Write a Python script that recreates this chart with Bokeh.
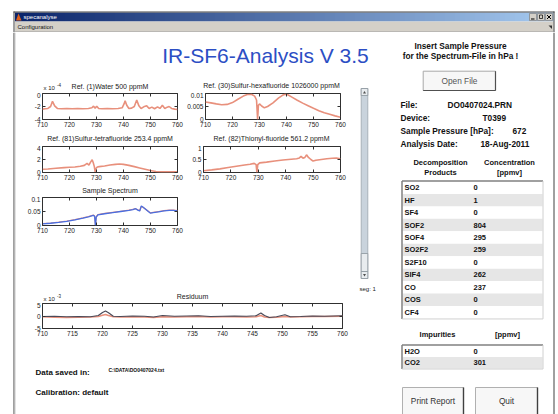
from bokeh.plotting import figure
from bokeh.layouts import column, row
from bokeh.models import Range1d, FixedTicker, PrintfTickFormatter, LinearAxis, CustomJSTickFormatter
from bokeh.core.properties import value
from bokeh.embed import file_html
from bokeh.resources import INLINE

# ---------------- data ----------------
water_x = [710, 711, 712, 713, 713.7, 714.5, 715.5, 717, 719, 721, 723, 725, 727, 728.3, 728.9, 729.5, 730.1,
           730.8, 732, 734, 736, 738, 739.5, 740.2, 740.6, 741.2, 742, 743, 744, 744.9, 745.7, 746.5, 747.5,
           748.6, 749.5, 750.5, 751.5, 752.6, 753.5, 754.4, 755.3, 756.2, 756.9, 757.8, 759, 760]
water_e4 = [-2.4, -2.35, -2.3, -2.0, -1.2, -1.9, -2.3, -2.35, -2.3, -2.35, -2.3, -2.35, -2.3, -2.2, -1.95, -2.25,
            -1.95, -2.3, -2.35, -2.3, -2.35, -2.3, -2.2, -1.6, -1.1, -1.8, -2.3, -2.25, -2.0, -1.0, -1.9, -2.3,
            -2.05, -1.9, -2.3, -2.1, -2.35, -2.05, -2.3, -1.8, -2.3, -2.1, -2.0, -2.3, -2.4, -2.45]

sf6_x = [710, 712, 714, 716, 718, 720, 722, 724, 725.5, 727, 728.2, 728.9, 729.3, 729.6, 730, 730.8, 731.8, 733,
         735, 737, 738.5, 739.5, 740.5, 742, 744, 746, 748, 750, 752, 754, 756, 758, 760]
sf6_y = [0.0067, 0.0064, 0.006, 0.0057, 0.0058, 0.0065, 0.0078, 0.009, 0.0096, 0.0097, 0.009, 0.0075, 0.0,
         0.0055, 0.006, 0.0052, 0.0045, 0.005, 0.0064, 0.0082, 0.0093, 0.0097, 0.0095, 0.0086, 0.0074, 0.0063,
         0.0053, 0.0043, 0.0034, 0.0026, 0.002, 0.0014, 0.0009]

sf4_x = [710, 712, 715, 718, 720, 722, 724, 725.5, 726.5, 727.2, 727.8, 728.4, 728.8, 729.2, 729.5, 729.8, 730.3,
         731, 733, 735, 737, 738.5, 740, 742, 744, 746, 748, 750, 752, 754, 756, 758, 760]
sf4_y = [0.5, 0.55, 0.65, 0.75, 0.8, 0.85, 0.95, 1.1, 1.4, 1.15, 1.6, 1.95, 1.5, 0.9, 0.1, 0.6, 0.85, 0.9, 1.0,
         1.15, 1.25, 1.3, 1.25, 1.1, 0.9, 0.7, 0.5, 0.3, 0.15, 0.1, 0.1, 0.1, 0.1]

sof2_x = [710, 713, 716, 719, 722, 725, 727, 728.5, 729.2, 729.5, 729.8, 730.5, 733, 736, 739, 742, 744, 745,
          745.6, 746.3, 747, 747.6, 748.3, 749.2, 750, 751, 753, 755, 757, 758.5, 760]
sof2_y = [0.07, 0.1, 0.14, 0.19, 0.24, 0.29, 0.32, 0.35, 0.3, 0.0, 0.3, 0.37, 0.4, 0.44, 0.48, 0.51, 0.53, 0.56,
          0.62, 0.55, 0.58, 0.68, 0.58, 0.5, 0.44, 0.47, 0.5, 0.53, 0.55, 0.56, 0.53]

sample_x = [710, 713, 716, 719, 722, 725, 727, 728.8, 729.3, 729.6, 729.9, 730.5, 733, 736, 739, 742, 743.5, 744.5,
            745.3, 746, 746.6, 747.3, 748.2, 749.2, 750, 751, 753, 755, 757, 758.5, 760]
sample_y = [0.006, 0.008, 0.011, 0.015, 0.02, 0.026, 0.031, 0.036, 0.033, 0.0, 0.03, 0.038, 0.042, 0.046, 0.05,
            0.054, 0.057, 0.06, 0.055, 0.052, 0.07, 0.065, 0.058, 0.05, 0.044, 0.046, 0.049, 0.052, 0.054, 0.054,
            0.052]
sample_fit = [0.007, 0.009, 0.012, 0.016, 0.021, 0.027, 0.032, 0.037, 0.035, 0.002, 0.031, 0.039, 0.043, 0.047,
              0.051, 0.055, 0.058, 0.06, 0.056, 0.053, 0.068, 0.064, 0.058, 0.051, 0.045, 0.047, 0.05, 0.053,
              0.055, 0.055, 0.053]

resid_x = [710, 712, 714, 716, 718, 719.3, 720, 720.5, 721, 721.8, 723, 725, 727, 728.5, 730, 732, 734, 736, 738,
           740, 742, 744, 745.6, 746.4, 747.0, 747.8, 749, 750.4, 751.3, 753, 755, 757, 760]
resid_e3 = [-0.2, -0.1, -0.3, -0.2, -0.3, 0.2, 1.4, 2.0, 1.3, -0.1, -0.2, 0.0, -0.1, -0.4, 0.2, -0.1, 0.0, 0.1,
            -0.2, -0.1, 0.0, -0.1, 0.1, 1.2, 0.2, -0.6, -0.3, 0.5, -0.3, -0.2, 0.0, -0.1, 0.1]
resid_ref_e3 = [-0.3, -0.5, -0.6, -0.5, -0.4, -0.2, 0.3, 0.6, 0.2, -0.3, -0.4, -0.3, -0.4, -0.6, -0.3, -0.4, -0.3,
                -0.2, -0.4, -0.3, -0.3, -0.4, -0.3, 0.2, -0.4, -0.6, -0.5, -0.2, -0.4, -0.3, -0.2, -0.2, -0.1]

x_ticks_small = [710, 720, 730, 740, 750, 760]
x_ticks_resid = [710, 715, 720, 725, 730, 735, 740, 745, 750, 755, 760]

plot_titles = ["Ref. (1)Water 500 ppmM", "Ref. (30)Sulfur-hexafluoride 1026000 ppmM",
               "Ref. (81)Sulfur-tetrafluoride 253.4 ppmM", "Ref. (82)Thionyl-fluoride 561.2 ppmM",
               "Sample Spectrum", "Residuum"]

info_labels = ["File:", "Device:", "Sample Pressure [hPa]:", "Analysis Date:"]
info_values = ["DO0407024.PRN", "T0399", "672", "18-Aug-2011"]

products = ["SO2", "HF", "SF4", "SOF2", "SOF4", "SO2F2", "S2F10", "SIF4", "CO", "COS", "CF4"]
concentrations = ["0", "1", "0", "804", "295", "259", "0", "262", "237", "0", "0"]
impurities = ["H2O", "CO2"]
impurity_values = ["0", "301"]

# ---------------- styles ----------------
FONT = value("Liberation Sans")
FONTNAME = "Liberation Sans"
BG = "#ffffff"
RED = "#e8907c"
BLUE = "#4a6ee0"
AX = "#303030"


def canvas(x0, x1, y0, y1):
    p = figure(width=x1 - x0, height=y1 - y0, x_range=Range1d(x0, x1), y_range=Range1d(y1, y0),
               x_axis_type=None, y_axis_type=None, toolbar_location=None, output_backend="svg",
               min_border=0, background_fill_color=BG, border_fill_color=BG, outline_line_color=None,
               frame_align=False)
    return p


def txt(p, xs, ys, texts, size, bold=False, align="left", color="#111111"):
    p.text(x=xs, y=ys, text=texts, text_font=FONT, text_font_size=size,
           text_font_style="bold" if bold else "normal", text_align=align,
           text_baseline="middle", text_color=color)


def spec(width, height, left, right, bottom, xr, yr, xt, yt):
    p = figure(width=width, height=height, x_range=Range1d(*xr), y_range=Range1d(*yr),
               toolbar_location=None, output_backend="svg", frame_align=False,
               min_border_left=left, min_border_right=right, min_border_top=1, min_border_bottom=bottom,
               background_fill_color="white", border_fill_color=BG, outline_line_color=AX)
    p.grid.visible = False
    p.xaxis.ticker = FixedTicker(ticks=xt)
    p.yaxis.ticker = FixedTicker(ticks=yt)
    p.xaxis.formatter = PrintfTickFormatter(format="%g")
    p.yaxis.formatter = PrintfTickFormatter(format="%g")
    for ax in (p.xaxis[0], p.yaxis[0]):
        ax.axis_line_color = None
        ax.major_tick_in = 3
        ax.major_tick_out = 0
        ax.minor_tick_line_color = None
        ax.major_tick_line_color = AX
        ax.major_label_text_font = FONTNAME
        ax.major_label_text_font_size = "6.5px"
        ax.major_label_text_color = "#222222"
        ax.major_label_standoff = 2
    for loc, t in (("above", xt), ("right", yt)):
        ax = LinearAxis(ticker=FixedTicker(ticks=t), formatter=CustomJSTickFormatter(code="return ''"),
                        major_label_text_font_size="0px", major_label_standoff=0,
                        major_tick_in=3, major_tick_out=0, minor_tick_line_color=None,
                        axis_line_color=None, major_tick_line_color=AX)
        p.add_layout(ax, loc)
    return p


def multiplier(p, x, y, exp):
    txt(p, [x], [y], ["x 10"], "6px", color="#222222")
    txt(p, [x + 13.5], [y - 2.5], [exp], "4.5px", color="#222222")


# ---------------- window chrome ----------------
chrome = canvas(0, 558, 0, 32)
n = 108
lefts = [14.5 + i * 5 for i in range(n)]
rights = [min(l + 5, 553) for l in lefts]
c0, c1 = (10, 36, 106), (166, 202, 240)
cols = ["#%02x%02x%02x" % tuple(int(a + (b - a) * i / (n - 1)) for a, b in zip(c0, c1)) for i in range(n)]
chrome.quad(left=lefts, right=rights, top=12, bottom=21, fill_color=cols, line_color=None)
chrome.quad(left=[14.5], right=[553], top=[21], bottom=[31.5], fill_color="#d4d0c8", line_color=None)
chrome.segment(x0=[13, 13.5, 553.5, 14], y0=[11.5, 11, 11, 31.5], x1=[554, 13.5, 553.5, 553],
               y1=[11.5, 32, 32, 31.5], line_color=["#404040", "#404040", "#404040", "#a0a0a0"], line_width=1)
chrome.patch(x=[15.5, 18, 21], y=[20, 13, 20], fill_color="#e0601a", line_color=None)
txt(chrome, [23], [16.3], ["specanalyse"], "6px", color="#ffffff")
chrome.quad(left=[529, 537, 545], right=[536, 544, 552], top=13, bottom=20, fill_color="#d4d0c8",
            line_color="#808080", line_width=0.7)
chrome.segment(x0=[530.5, 546.5, 546.5], y0=[18.5, 14.5, 18.5], x1=[534, 550.5, 550.5],
               y1=[18.5, 18.5, 14.5], line_color="#000000", line_width=1)
chrome.quad(left=[539], right=[542], top=[14.5], bottom=[18], fill_color=None, line_color="#000000",
            line_width=0.7)
txt(chrome, [17], [26.5], ["Configuration"], "6px", color="#111111")
chrome.patch(x=[548, 551.5, 551.5], y=[25, 25, 28.5], fill_color="#333333", line_color=None)

# left border strip
lstrip = canvas(0, 16, 32, 414)
lstrip.segment(x0=[13.5, 14.5], y0=[32, 32], x1=[13.5, 14.5], y1=[414, 414],
               line_color=["#404040", "#c8c8c8"], line_width=1)

# title
tfig = canvas(16, 385, 32, 80)
txt(tfig, [265], [55], ["IR-SF6-Analysis V 3.5"], "21px", color="#2c4ec4", align="center")

# ---------------- plots ----------------
TS = "7px"
TC = "#222222"

h1 = canvas(16, 355, 80, 92)
txt(h1, [109.5, 271], [85.5, 85], plot_titles[0:2], TS, align="center", color=TC)
multiplier(h1, 43, 87, "-4")

p1 = spec(168, 40, 26, 7, 13, (710, 760), (-4, 0), x_ticks_small, [-4, -2, 0])
p1.line(water_x, water_e4, line_color=RED, line_width=1.6)

p3 = spec(171, 40, 19, 15, 13, (710, 760), (0, 0.01), x_ticks_small, [0, 0.005, 0.01])
p3.line(sf6_x, sf6_y, line_color=RED, line_width=1.6)

h2 = canvas(16, 355, 132, 145)
txt(h2, [109.5, 271], [138, 138], plot_titles[2:4], TS, align="center", color=TC)

p2 = spec(168, 37, 26, 7, 10, (710, 760), (0, 4), x_ticks_small, [0, 2, 4])
p2.line(sf4_x, sf4_y, line_color=RED, line_width=1.6)

p4 = spec(171, 37, 19, 15, 10, (710, 760), (0, 1), x_ticks_small, [0, 0.5, 1])
p4.line(sof2_x, sof2_y, line_color=RED, line_width=1.6)

h3 = canvas(16, 355, 182, 196)
txt(h3, [109.5], [190], plot_titles[4:5], TS, align="center", color=TC)

ps = spec(168, 41, 26, 7, 12, (710, 760), (0, 0.1), x_ticks_small, [0, 0.05, 0.1])
ps.line(sample_x, sample_fit, line_color=RED, line_width=1.2)
ps.line(sample_x, sample_y, line_color=BLUE, line_width=1.3)

blank1 = canvas(184, 355, 196, 237)

h4 = canvas(16, 355, 237, 302)
txt(h4, [192], [296], plot_titles[5:6], TS, align="center", color=TC)
multiplier(h4, 43, 298, "-3")

pr = spec(339, 38, 26, 13, 12, (710, 760), (-5, 5), x_ticks_resid, [-5, 0, 5])
pr.line(resid_x, resid_ref_e3, line_color=RED, line_width=1.6)
pr.line(resid_x, resid_e3, line_color="#4a4a58", line_width=1.2)

# bottom texts
bfig = canvas(16, 355, 340, 414)
txt(bfig, [35, 35], [372, 392], ["Data saved in:", "Calibration: default"], "8px", bold=True)
txt(bfig, [108], [369.5], ["C:\\DATA\\DO0407024.txt"], "5px", bold=True)

# scrollbar column
sfig = canvas(355, 385, 80, 414)
sfig.quad(left=[360.7], right=[367.3], top=[88], bottom=[278], fill_color="#c9d3dc", line_color="#9aa4ac",
          line_width=0.8)
sfig.quad(left=[360.7, 360.7, 360.7], right=[367.3, 367.3, 367.3], top=[88, 253, 271], bottom=[95, 271, 278],
          fill_color="#e8ecef", line_color="#8a949c", line_width=0.8)
sfig.patch(x=[362.5, 364, 365.5], y=[93, 90.5, 93], fill_color="#505050", line_color=None)
sfig.patch(x=[362.5, 364, 365.5], y=[273.5, 276, 273.5], fill_color="#505050", line_color=None)
txt(sfig, [359], [288], ["seg: 1"], "6px", color="#222222")

# ---------------- right panel ----------------
RS = "8.3px"
rp = canvas(385, 558, 32, 414)
rp.segment(x0=[553.5], y0=[32], x1=[553.5], y1=[414], line_color="#404040", line_width=1)
txt(rp, [460, 460], [45, 55], ["Insert Sample Pressure", "for the Spectrum-File in hPa !"], RS, bold=True,
    align="center")
rp.quad(left=[422.7], right=[495], top=[70.7], bottom=[90], fill_color="#f7f7f7", line_color="#a8a8a8", line_width=1)
rp.segment(x0=[495, 422.7], y0=[70.7, 90], x1=[495, 495], y1=[90, 90], line_color="#505050", line_width=1.2)
txt(rp, [459], [80.5], ["Open File"], RS, color="#555555", align="center")

info_y = [104 + 13 * i for i in range(len(info_labels))]
info_vx = [447, 482, 512, 480]
txt(rp, [400] * len(info_labels), info_y, info_labels, RS, bold=True)
txt(rp, info_vx, info_y, info_values, RS, bold=True)

txt(rp, [440, 440, 509, 509], [162, 172, 162, 172], ["Decomposition", "Products", "Concentration", "[ppmv]"],
    "7.5px", bold=True, align="center")


def table(p, top, rh, names, vals):
    nr = len(names)
    tops = [top + i * rh for i in range(nr)]
    bots = [t + rh for t in tops]
    fills = ["#ffffff" if i % 2 == 0 else "#e6e6e6" for i in range(nr)]
    p.quad(left=402, right=542, top=tops, bottom=bots, fill_color=fills, line_color=None)
    mids = [t + rh / 2 for t in tops]
    txt(p, [404] * nr, mids, names, "7.5px", bold=True)
    txt(p, [473] * nr, mids, vals, "7.5px", bold=True)
    b = top + nr * rh
    p.segment(x0=[401.5, 401.5, 542.5, 401.5], y0=[top - 0.5, top - 0.5, top - 0.5, b + 0.5],
              x1=[542.5, 401.5, 542.5, 542.5], y1=[top - 0.5, b + 0.5, b + 0.5, b + 0.5],
              line_color=["#808080", "#808080", "#d0d0d0", "#d0d0d0"], line_width=[1.5, 1.5, 1, 1])


table(rp, 181, 12.45, products, concentrations)
txt(rp, [437, 507], [334, 334], ["Impurities", "[ppmv]"], "7.5px", bold=True, align="center")
table(rp, 345, 11.5, impurities, impurity_values)

rp.quad(left=[402, 475], right=[463, 537], top=[387, 387], bottom=[416, 416], fill_color="#f7f7f7",
        line_color="#b0b0b0", line_width=1)
rp.segment(x0=[463, 537], y0=[387, 387], x1=[463, 537], y1=[414, 414], line_color="#404040", line_width=1.4)
txt(rp, [432.5, 506], [400, 400], ["Print Report", "Quit"], RS, color="#333333", align="center")

# ---------------- layout ----------------
plotcol = column(h1, row(p1, p3), h2, row(p2, p4), h3, row(ps, blank1), h4, pr, bfig)
middle = column(tfig, row(plotcol, sfig))
layout = column(chrome, row(lstrip, middle, rp))

open("out.html", "w").write(file_html(layout, INLINE))
